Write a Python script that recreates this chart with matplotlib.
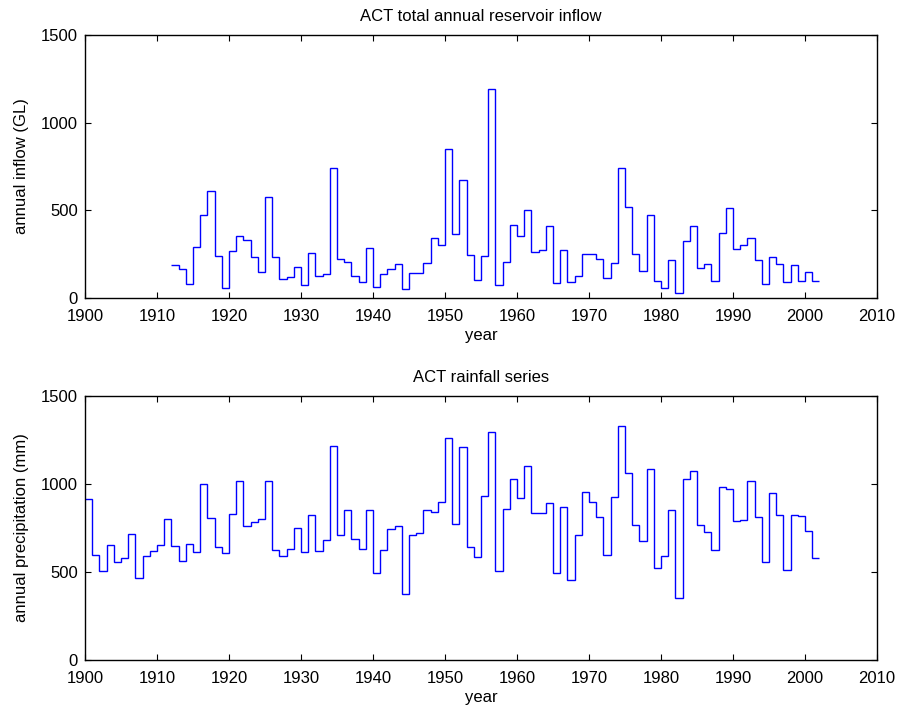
import numpy as np
import matplotlib
matplotlib.use("Agg")
import matplotlib.pyplot as plt

plt.rcParams['font.family'] = ['Liberation Sans', 'DejaVu Sans']
plt.rcParams['font.size'] = 12

# ACT total annual reservoir inflow (GL), 1912-2001
inflow_start = 1912
inflow = [190, 168, 80, 288, 472, 613, 242, 55, 269, 352,
          330, 234, 149, 577, 234, 107, 118, 175, 72, 259,
          124, 139, 741, 223, 206, 128, 93, 284, 61, 139,
          164, 192, 50, 145, 141, 202, 341, 303, 850, 366,
          672, 244, 101, 242, 1194, 74, 206, 415, 356, 501,
          265, 274, 411, 84, 276, 91, 124, 250, 250, 225,
          114, 198, 739, 520, 251, 156, 476, 95, 55, 215,
          27, 324, 413, 170, 194, 95, 370, 512, 282, 303,
          345, 217, 80, 232, 194, 90, 187, 97, 150, 99]

# ACT annual precipitation (mm), 1900-2001
rain_start = 1900
rain = [917, 595, 506, 652, 555, 581, 718, 464, 591, 617,
        655, 799, 648, 564, 657, 616, 1002, 807, 640, 606,
        828, 1015, 761, 784, 801, 1019, 625, 589, 633, 750,
        612, 822, 617, 684, 1218, 712, 850, 689, 629, 852,
        494, 625, 742, 759, 375, 712, 722, 850, 839, 898,
        1261, 771, 1208, 642, 583, 930, 1297, 504, 858, 1028,
        920, 1104, 837, 837, 890, 496, 871, 455, 710, 956,
        898, 811, 595, 924, 1328, 1061, 769, 674, 1085, 521,
        593, 852, 350, 1030, 1076, 767, 727, 627, 985, 973,
        788, 794, 1019, 811, 557, 949, 826, 513, 826, 816,
        735, 578]

xticks = list(range(1900, 2011, 10))
yticks = [0, 500, 1000, 1500]

fig = plt.figure(figsize=(9.07, 7.08), dpi=100)
ax1 = fig.add_axes([0.0937, 0.5791, 0.8733, 0.3715])
ax2 = fig.add_axes([0.0937, 0.0678, 0.8733, 0.3729])

panels = [
    (ax1, inflow_start, inflow, 'ACT total annual reservoir inflow', 'annual inflow (GL)'),
    (ax2, rain_start, rain, 'ACT rainfall series', 'annual precipitation (mm)'),
]

for ax, start, vals, title, ylab in panels:
    edges = np.arange(start, start + len(vals) + 1)
    ax.stairs(vals, edges, baseline=None, color='#0000ff', linewidth=1.0)
    ax.set_xlim(1900, 2010)
    ax.set_ylim(0, 1500)
    ax.set_xticks(xticks)
    ax.set_yticks(yticks)
    ax.tick_params(direction='in', top=True, right=True, length=4, width=0.8,
                   labelsize=12)
    ax.tick_params(axis='x', pad=8)
    ax.tick_params(axis='y', pad=5)
    for s in ax.spines.values():
        s.set_linewidth(1.0)
    ax.set_title(title, fontsize=12, pad=10)
    ax.set_xlabel('year', fontsize=12, labelpad=3)
    ax.set_ylabel(ylab, fontsize=12, labelpad=9)

fig.savefig('out.png', dpi=100)
